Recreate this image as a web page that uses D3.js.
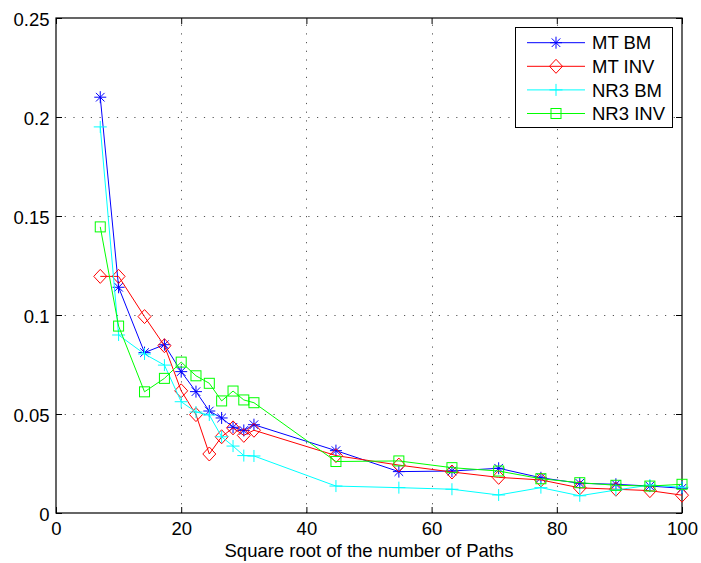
<!DOCTYPE html>
<html>
<head>
<meta charset="utf-8">
<script src="https://cdn.jsdelivr.net/npm/d3@7"></script>
<style>
  html, body { margin: 0; padding: 0; background: #fff; }
  svg { display: block; }
  text { font-family: "Liberation Sans", Arial, Helvetica, sans-serif; fill: #000; }
</style>
</head>
<body>
<svg id="chart" width="701" height="563"></svg>
<script>
// Square root of the number of simulated paths
const paths = [7.07, 10, 14.14, 17.32, 20, 22.36, 24.49, 26.46, 28.28, 30, 31.62,
               44.72, 54.77, 63.25, 70.71, 77.46, 83.67, 89.44, 94.87, 100];

// Error for each generator / sampling method
const mtBM   = [0.210, 0.114, 0.081, 0.085, 0.0714, 0.0613, 0.0515, 0.048, 0.0433, 0.0417, 0.0446,
                0.0315, 0.0209, 0.0212, 0.0226, 0.0178, 0.015, 0.0145, 0.0136, 0.0125];
const mtINV  = [0.1195, 0.1195, 0.0992, 0.0845, 0.0617, 0.0497, 0.0298, 0.0385, 0.043, 0.0392, 0.0418,
                0.029, 0.0242, 0.0207, 0.018, 0.0167, 0.0127, 0.012, 0.0113, 0.009];
const nr3BM  = [0.195, 0.0899, 0.0803, 0.0747, 0.0562, 0.051, 0.0495, 0.0385, 0.0338, 0.029, 0.0288,
                0.0136, 0.0128, 0.012, 0.0091, 0.0128, 0.0087, 0.0116, 0.0141, 0.013];
const nr3INV = [0.1445, 0.0944, 0.0612, 0.068, 0.0762, 0.0693, 0.0655, 0.0566, 0.0616, 0.0571, 0.0557,
                0.026, 0.0263, 0.0229, 0.0212, 0.0173, 0.0153, 0.014, 0.0136, 0.0145];

const seriesNames = ["MT BM", "MT INV", "NR3 BM", "NR3 INV"];
const xTicks = [0, 20, 40, 60, 80, 100];
const yTicks = [0, 0.05, 0.1, 0.15, 0.2, 0.25];
const xLabel = "Square root of the number of Paths";

const series = [
  { name: seriesNames[0], values: mtBM,   color: "#0000ff", marker: "star" },
  { name: seriesNames[1], values: mtINV,  color: "#ff0000", marker: "diamond" },
  { name: seriesNames[2], values: nr3BM,  color: "#00ffff", marker: "plus" },
  { name: seriesNames[3], values: nr3INV, color: "#00ff00", marker: "square" }
];

const svg = d3.select("#chart");
const plotL = 56, plotR = 682, plotT = 18, plotB = 513;
const fontSize = 18.5;

const x = d3.scaleLinear().domain([0, 100]).range([plotL, plotR]);
const y = d3.scaleLinear().domain([0, 0.25]).range([plotB, plotT]);

// Dotted grid
const grid = svg.append("g").attr("stroke", "#555").attr("stroke-width", 1)
  .attr("stroke-dasharray", "1.2,7.5").attr("fill", "none");
xTicks.slice(1, -1).forEach(t => {
  grid.append("line").attr("x1", Math.round(x(t)) + 0.5).attr("x2", Math.round(x(t)) + 0.5)
    .attr("y1", plotB).attr("y2", plotT);
});
yTicks.slice(1, -1).forEach(t => {
  grid.append("line").attr("y1", Math.round(y(t)) + 0.5).attr("y2", Math.round(y(t)) + 0.5)
    .attr("x1", plotL).attr("x2", plotR);
});

// Axes with inward ticks on all four sides
const tickLen = 6;
const xAxisB = d3.axisBottom(x).tickValues(xTicks).tickSizeInner(-tickLen).tickSizeOuter(0).tickPadding(9);
const xAxisT = d3.axisTop(x).tickValues(xTicks).tickSizeInner(-tickLen).tickSizeOuter(0).tickFormat("");
const yAxisL = d3.axisLeft(y).tickValues(yTicks).tickSizeInner(-tickLen).tickSizeOuter(0).tickPadding(6.5)
  .tickFormat(d => String(+d.toFixed(2)));
const yAxisR = d3.axisRight(y).tickValues(yTicks).tickSizeInner(-tickLen).tickSizeOuter(0).tickFormat("");

function styleAxis(g) {
  g.select(".domain").remove();
  g.selectAll(".tick line").attr("stroke", "#000");
  g.selectAll("text").attr("font-size", fontSize).attr("fill", "#000")
    .attr("font-family", "'Liberation Sans', Arial, Helvetica, sans-serif");
}
svg.append("g").attr("transform", `translate(0,${plotB})`).call(xAxisB).call(styleAxis)
  .selectAll("text").attr("dy", "0.71em");
svg.append("g").attr("transform", `translate(0,${plotT})`).call(xAxisT).call(styleAxis);
svg.append("g").attr("transform", `translate(${plotL},0)`).call(yAxisL).call(styleAxis)
  .selectAll("text").attr("dy", "0.43em");
svg.append("g").attr("transform", `translate(${plotR},0)`).call(yAxisR).call(styleAxis);

// Plot box
svg.append("rect").attr("x", plotL).attr("y", plotT).attr("width", plotR - plotL).attr("height", plotB - plotT)
  .attr("fill", "none").attr("stroke", "#000").attr("stroke-width", 1.2);

// Marker shapes
function drawMarker(g, type, cx, cy, color) {
  const m = g.append("g").attr("transform", `translate(${cx},${cy})`)
    .attr("stroke", color).attr("stroke-width", 1).attr("fill", "none");
  if (type === "star") {
    const r = 6, d = 4.3;
    m.append("path").attr("d", `M${-r},0H${r}M0,${-r}V${r}M${-d},${-d}L${d},${d}M${-d},${d}L${d},${-d}`);
  } else if (type === "diamond") {
    m.append("path").attr("d", "M0,-7L6.5,0L0,7L-6.5,0Z");
  } else if (type === "plus") {
    m.append("path").attr("d", "M-6.5,0H6.5M0,-6V6");
  } else if (type === "square") {
    m.append("rect").attr("x", -5).attr("y", -5).attr("width", 10).attr("height", 10);
  }
}

const line = d3.line().x(d => x(d[0])).y(d => y(d[1]));
series.forEach(s => {
  const pts = paths.map((p, i) => [p, s.values[i]]);
  const g = svg.append("g");
  g.append("path").datum(pts).attr("d", line).attr("fill", "none")
    .attr("stroke", s.color).attr("stroke-width", 1);
  pts.forEach(p => drawMarker(g, s.marker, x(p[0]), y(p[1]), s.color));
});

// Legend
const lg = svg.append("g");
lg.append("rect").attr("x", 515.5).attr("y", 27.5).attr("width", 157).attr("height", 100)
  .attr("fill", "#fff").attr("stroke", "#000").attr("stroke-width", 1);
series.forEach((s, i) => {
  const cy = 42.7 + i * 23.6;
  lg.append("line").attr("x1", 527).attr("x2", 585).attr("y1", cy).attr("y2", cy)
    .attr("stroke", s.color).attr("stroke-width", 1);
  drawMarker(lg, s.marker, 556, cy, s.color);
  lg.append("text").attr("x", 592).attr("y", cy).attr("dy", "0.36em")
    .attr("font-size", fontSize).text(s.name);
});

// X axis label
svg.append("text").attr("x", (plotL + plotR) / 2).attr("y", 557)
  .attr("text-anchor", "middle").attr("font-size", fontSize).text(xLabel);
</script>
</body>
</html>
